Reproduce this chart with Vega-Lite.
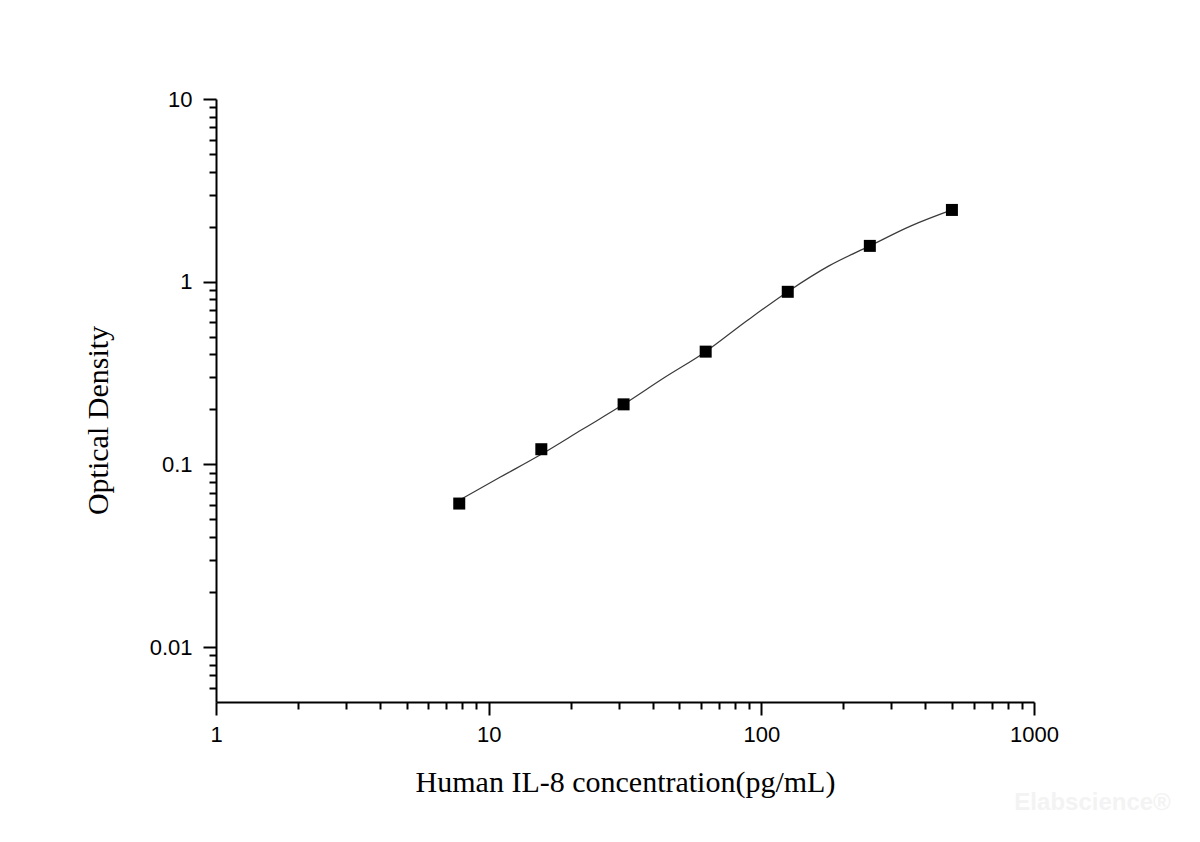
{
  "$schema": "https://vega.github.io/schema/vega-lite/v6.json",
  "description": "Human IL-8 ELISA standard curve",
  "width": 818,
  "height": 603,
  "autosize": "none",
  "padding": {"left": 216, "top": 99, "right": 166, "bottom": 140},
  "background": "white",
  "datasets": {
    "standards": [
      {"conc": 7.8, "od": 0.061},
      {"conc": 15.6, "od": 0.121},
      {"conc": 31.25, "od": 0.213},
      {"conc": 62.5, "od": 0.414},
      {"conc": 125, "od": 0.88},
      {"conc": 250, "od": 1.57},
      {"conc": 500, "od": 2.47}
    ],
    "fit": [
      {"conc": 7.8, "od": 0.0636},
      {"conc": 11, "od": 0.0849},
      {"conc": 15.6, "od": 0.1135},
      {"conc": 22, "od": 0.155},
      {"conc": 31.25, "od": 0.213},
      {"conc": 44, "od": 0.298},
      {"conc": 62.5, "od": 0.414},
      {"conc": 88, "od": 0.607},
      {"conc": 125, "od": 0.882},
      {"conc": 177, "od": 1.22},
      {"conc": 250, "od": 1.57},
      {"conc": 354, "od": 2.02},
      {"conc": 500, "od": 2.47}
    ],
    "mark": [
      {"conc": 1640, "od": 0.0014, "label": "Elabscience®"}
    ]
  },
  "layer": [
    {
      "data": {"name": "fit"},
      "mark": {"type": "line", "interpolate": "monotone", "color": "#3a3a3a", "strokeWidth": 1.2},
      "encoding": {
        "x": {
          "field": "conc",
          "type": "quantitative",
          "scale": {"type": "log", "domain": [1, 1000], "nice": false},
          "axis": {
            "orient": "bottom",
            "values": [2, 3, 4, 5, 6, 7, 8, 9, 20, 30, 40, 50, 60, 70, 80, 90, 200, 300, 400, 500, 600, 700, 800, 900],
            "labels": false,
            "domain": false,
            "tickSize": 7,
            "title": null
          }
        },
        "y": {
          "field": "od",
          "type": "quantitative",
          "scale": {"type": "log", "domain": [0.005, 10], "nice": false},
          "axis": {
            "orient": "left",
            "values": [0.006, 0.007, 0.008, 0.009, 0.02, 0.03, 0.04, 0.05, 0.06, 0.07, 0.08, 0.09, 0.2, 0.3, 0.4, 0.5, 0.6, 0.7, 0.8, 0.9, 2, 3, 4, 5, 6, 7, 8, 9],
            "labels": false,
            "domain": false,
            "tickSize": 7,
            "title": null
          }
        }
      }
    },
    {
      "data": {"name": "standards"},
      "mark": {"type": "point", "shape": "square", "filled": true, "color": "black", "opacity": 1, "size": 144},
      "encoding": {
        "x": {
          "field": "conc",
          "type": "quantitative",
          "scale": {"type": "log", "domain": [1, 1000], "nice": false},
          "axis": {
            "orient": "bottom",
            "values": [1, 10, 100, 1000],
            "format": "~g",
            "tickSize": 13,
            "labelPadding": 9,
            "labelFlush": false,
            "labelOverlap": false,
            "title": "Human IL-8 concentration(pg/mL)",
            "titleBaseline": "alphabetic",
            "titleY": 89
          }
        },
        "y": {
          "field": "od",
          "type": "quantitative",
          "scale": {"type": "log", "domain": [0.005, 10], "nice": false},
          "axis": {
            "orient": "left",
            "values": [0.01, 0.1, 1, 10],
            "format": "~g",
            "tickSize": 13,
            "labelPadding": 11,
            "labelFlush": false,
            "labelOverlap": false,
            "title": "Optical Density",
            "titleX": -103,
            "titleY": 321
          }
        }
      }
    },
    {
      "data": {"name": "mark"},
      "mark": {"type": "text", "font": "Liberation Sans", "fontWeight": "bold", "fontSize": 24, "color": "#f3f3f3", "align": "center", "baseline": "middle"},
      "encoding": {
        "x": {"field": "conc", "type": "quantitative", "axis": null},
        "y": {"field": "od", "type": "quantitative", "axis": null},
        "text": {"field": "label"}
      }
    }
  ],
  "resolve": {"axis": {"x": "independent", "y": "independent"}},
  "config": {
    "view": {"stroke": null},
    "axis": {
      "grid": false,
      "domainColor": "black",
      "domainWidth": 2,
      "tickColor": "black",
      "tickWidth": 2,
      "labelFont": "Liberation Sans",
      "labelFontSize": 22,
      "labelColor": "black",
      "titleFont": "Liberation Serif",
      "titleFontSize": 30,
      "titleFontWeight": "normal",
      "titleColor": "black"
    }
  }
}
